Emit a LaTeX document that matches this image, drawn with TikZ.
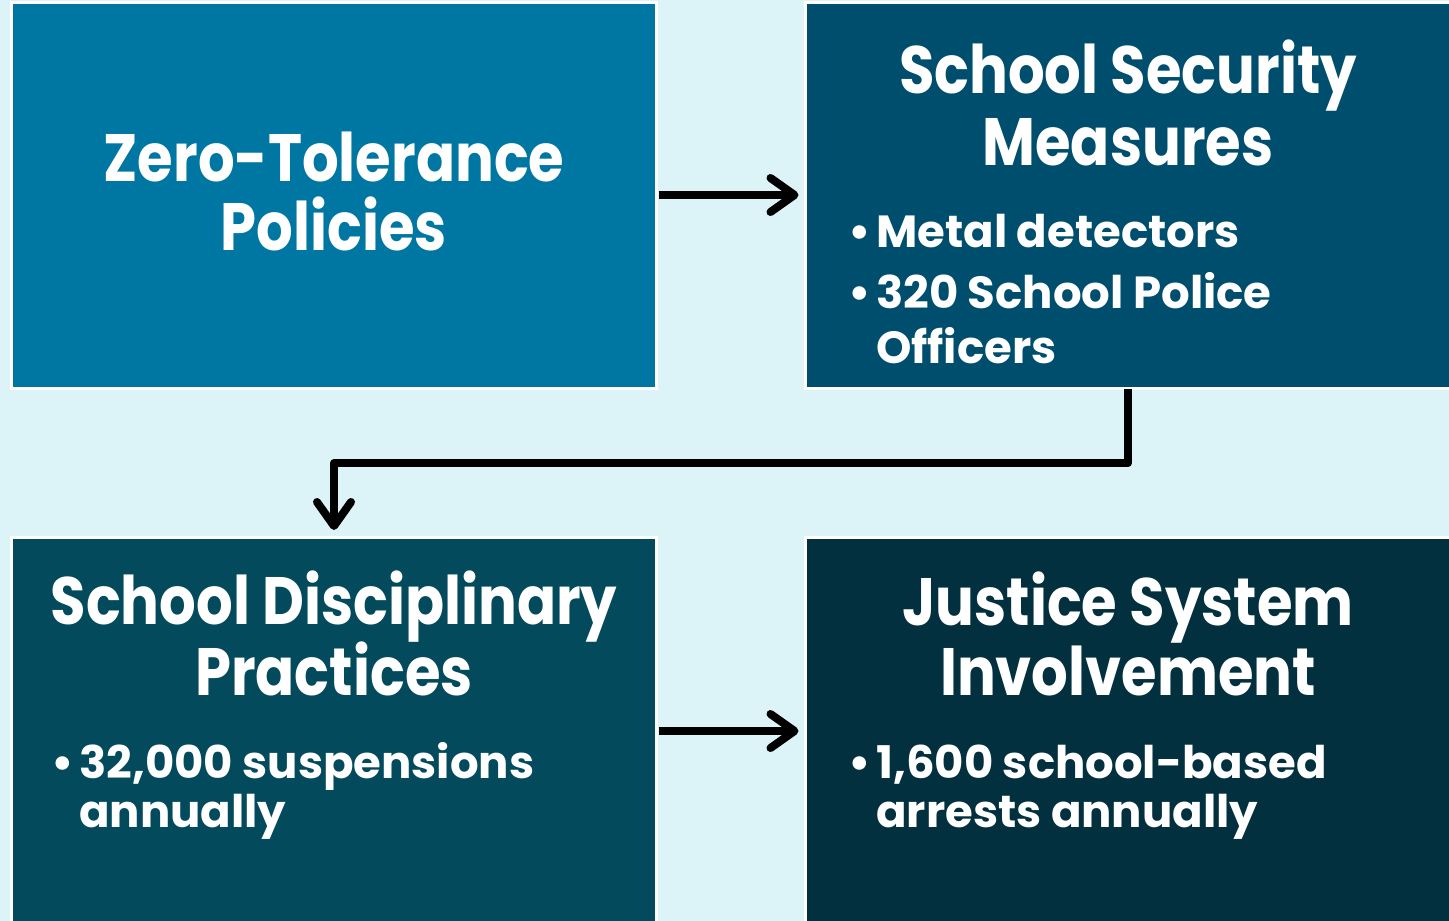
\documentclass[tikz,border=0pt]{standalone}
\usepackage{fontspec}
\setmainfont{Poppins}[FakeStretch=0.86]
\newfontfamily\bfont{Poppins}[FakeStretch=1.0]
\usetikzlibrary{arrows.meta}
\definecolor{bgc}{HTML}{DCF4F8}
\definecolor{cA}{HTML}{0077A3}
\definecolor{cB}{HTML}{004E6E}
\definecolor{cC}{HTML}{034A5C}
\definecolor{cD}{HTML}{02303F}
\tikzset{
  panel/.style={draw=white, line width=3pt, minimum width=645pt, minimum height=386pt, inner sep=0pt, outer sep=0pt},
  ttl/.style={text=white, font=\bfseries\fontsize{67}{70}\selectfont, align=center, anchor=base, inner sep=0pt},
  blt/.style={text=white, font=\bfont\bfseries\fontsize{45}{49}\selectfont, align=left, anchor=base west, inner sep=0pt},
  flow/.style={line width=8pt, -{Straight Barb[length=24pt,width=34pt,round]}}
}
\newcommand{\bl}{\makebox[28pt][l]{•}}
\newcommand{\ind}{\hspace*{28pt}}
\begin{document}
\begin{tikzpicture}[x=1pt,y=-1pt]
\useasboundingbox (0,0) rectangle (1449,921);
\fill[bgc] (0,0) rectangle (1449,921);
\node[panel, fill=cA] (b1) at (334,195.5) {};
\node[panel, fill=cB] (b2) at (1128,195.5) {};
\node[panel, fill=cC] (b3) at (334,730) {};
\node[panel, fill=cD] (b4) at (1128,730) {};
\node[ttl] (t1) at (334,250) {Zero-Tolerance\\[-1pt]Policies};
\node[ttl] (t2) at (1128,165) {School Security\\[2pt]Measures};
\node[ttl] (t3) at (334,695) {School Disciplinary\\[-2pt]Practices};
\node[ttl] (t4) at (1128,695) {Justice System\\[0pt]Involvement};
\node[blt] (l2) at (848,363) {\bl Metal detectors\\[12pt]\bl 320 School Police\\[6pt]\ind Officers};
\node[blt] (l3) at (51,827) {\bl 32,000 suspensions\\\ind annually};
\node[blt] (l4) at (848,827) {\bl 1,600 school-based\\\ind arrests annually};
\coordinate (j1) at (1128,463);
\coordinate (j2) at (334,463);
\draw[flow, shorten <=2pt, shorten >=7pt] (b1.east |- 0,195) -- (b2.west |- 0,195);
\draw[flow, line join=round, shorten >=7pt] (b2.south) -- (j1) -- (j2) -- (b3.north);
\draw[flow, shorten <=2pt, shorten >=7pt] (b3.east |- 0,731) -- (b4.west |- 0,731);
\end{tikzpicture}
\end{document}
